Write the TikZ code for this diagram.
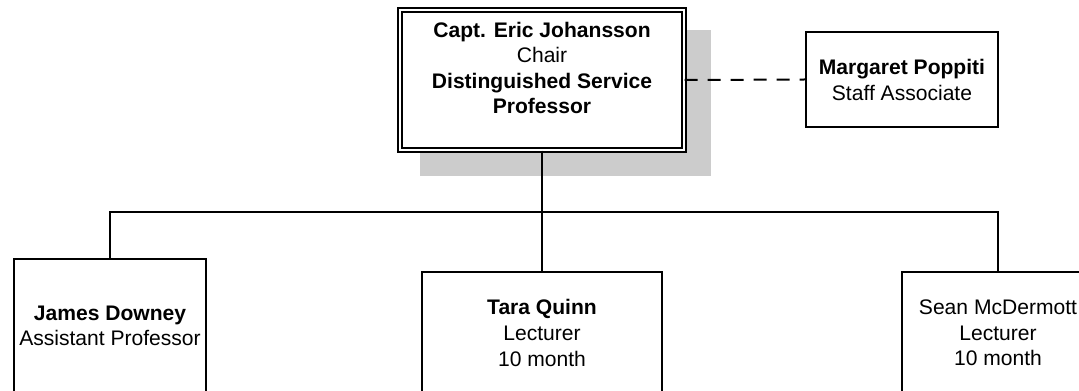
\documentclass[tikz,border=0pt]{standalone}
\usepackage{fontspec}
\setmainfont{Liberation Sans}
\begin{document}
\begin{tikzpicture}[x=0.75pt,y=-0.75pt,
  box/.style={draw=black,line width=1.5pt,fill=white,inner sep=0pt,rectangle},
  dbox/.style={draw=black,line width=1.1pt,double=white,double distance=1.9pt,fill=white,inner sep=0pt,rectangle},
  conn/.style={line width=1.5pt,black},
  dashconn/.style={line width=1.5pt,black,dash pattern=on 9.75pt off 7.5pt},
  lbl/.style={align=center,inner sep=0pt,font=\fontsize{15.8}{19.2}\selectfont}]
\useasboundingbox (0,0) rectangle (1079,391);
\clip (0,0) rectangle (1079,391);
\fill[white] (0,0) rectangle (1079,391);
% shadow of chair box
\fill[gray!40] (420,30) rectangle (711,176);
% boxes
\node[dbox,minimum width=213pt,minimum height=105pt] (chair) at (542,80) {};
\node[box,minimum width=144pt,minimum height=71.25pt] (marg) at (902,79.5) {};
\node[box,minimum width=144pt,minimum height=120.75pt] (james) at (110,339.5) {};
\node[box,minimum width=180pt,minimum height=111pt] (tara) at (542,346) {};
\node[box,minimum width=144pt,minimum height=111pt] (sean) at (998,346) {};
% connectors
\coordinate (bus) at (542,212);
\draw[conn] (chair.south) -- (tara.north);
\draw[conn] (james.north) |- (bus) -| (sean.north);
\draw[dashconn] (chair.east) -- (marg.west);
% texts
\node[lbl] (chairtxt) at (542,68) {\textbf{Capt. Eric Johansson}\\Chair\\\textbf{Distinguished Service}\\\textbf{Professor}};
\node[lbl] (margtxt) at (902,80) {\textbf{Margaret Poppiti}\\Staff Associate};
\node[lbl] (jamestxt) at (110,326) {\textbf{James Downey}\\Assistant Professor};
\node[lbl] (taratxt) at (542,333) {\textbf{Tara Quinn}\\Lecturer\\10 month};
\node[lbl] (seantxt) at (998,333) {Sean McDermott\\Lecturer\\10 month};
\end{tikzpicture}
\end{document}
